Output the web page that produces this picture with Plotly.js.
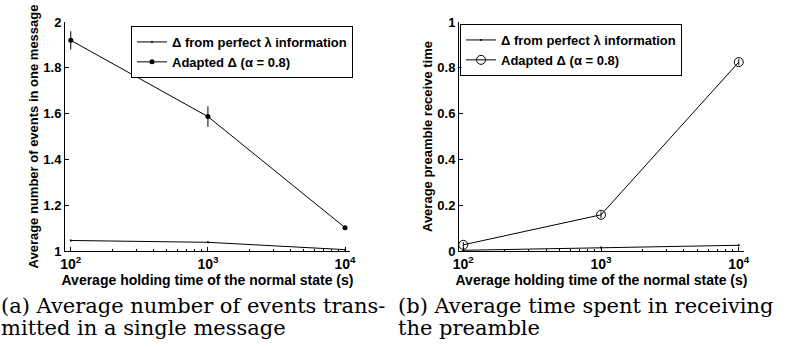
<!DOCTYPE html>
<html>
<head>
<meta charset="utf-8">
<script src="https://cdn.plot.ly/plotly-3.0.1.min.js"></script>
<style>html,body{margin:0;padding:0;background:#fff;}#chart{width:788px;height:347px;}</style>
</head>
<body>
<div id="chart"></div>
<script>
// ---- data ----
const holdingTimes = [100, 1000, 10000];
const tickVals = [100, 1000, 10000];
const tickText = ['10<sup>2</sup>', '10<sup>3</sup>', '10<sup>4</sup>'];
const minorTickVals = [200,300,400,500,600,700,800,900,2000,3000,4000,5000,6000,7000,8000,9000];

// (a) events per message
const eventsPerfect = [1.046, 1.038, 1.006];
const eventsPerfectErr = [0.004, 0.004, 0.003];
const eventsAdapted = [1.920, 1.587, 1.102];
const eventsAdaptedErr = [0.040, 0.045, 0.006];

// (b) preamble receive time
const preamblePerfect = [0.003, 0.015, 0.025];
const preamblePerfectErr = [0.003, 0.004, 0.004];
const preambleAdapted = [0.027, 0.158, 0.825];
const preambleAdaptedErr = [0.012, 0.014, 0.014];

const legendNames = ['\u0394 from perfect \u03bb information', 'Adapted \u0394 (\u03b1 = 0.8)'];
const xTitle = 'Average holding time of the normal state (s)';
const yTitleA = 'Average number of events in one message';
const yTitleB = 'Average preamble receive time';
const captionALines = ['(a) Average number of events trans-', 'mitted in a single message'];
const captionBLines = ['(b) Average time spent in receiving', 'the preamble'];

// ---- styling ----
const W = 788, H = 347;
const FAM = 'Liberation Sans';
const SERIF = 'DejaVu Serif';
const boldFont = (size) => ({family: FAM, size: size, color: '#000', weight: 'bold'});
const px = v => v / W;
const py = v => 1 - v / H;

function xAxis(domain, range, anchor) {
  return {
    type: 'log', domain: domain, range: range, anchor: anchor,
    showline: true, linecolor: '#000', linewidth: 1, mirror: false,
    showgrid: false, zeroline: false,
    ticks: 'inside', ticklen: 4, tickcolor: '#000',
    tickmode: 'array', tickvals: tickVals, ticktext: tickText,
    tickfont: boldFont(14),
    minor: {ticks: 'inside', ticklen: 2.5, tickcolor: '#000', tickmode: 'array', tickvals: minorTickVals, showgrid: false},
    title: {text: xTitle, font: boldFont(14), standoff: 0}
  };
}
function yAxis(domain, range, anchor, title) {
  return {
    domain: domain, range: range, anchor: anchor,
    showline: true, linecolor: '#000', linewidth: 1, mirror: false,
    showgrid: false, zeroline: false,
    ticks: 'inside', ticklen: 4, tickcolor: '#000', dtick: 0.2, tick0: 0,
    tickfont: boldFont(13),
    title: {text: title, font: boldFont(13), standoff: 1}
  };
}

const lineStyle = {color: '#000', width: 1};
const traces = [
  {x: holdingTimes, y: eventsPerfect, name: legendNames[0], mode: 'lines+markers', xaxis: 'x', yaxis: 'y', legend: 'legend',
   line: lineStyle, marker: {size: 2, color: '#000'},
   error_y: {type: 'data', array: eventsPerfectErr, color: '#000', thickness: 1, width: 0}},
  {x: holdingTimes, y: eventsAdapted, name: legendNames[1], mode: 'lines+markers', xaxis: 'x', yaxis: 'y', legend: 'legend',
   line: lineStyle, marker: {size: 5, color: '#000'},
   error_y: {type: 'data', array: eventsAdaptedErr, color: '#000', thickness: 1, width: 0}},
  {x: holdingTimes, y: preamblePerfect, name: legendNames[0], mode: 'lines+markers', xaxis: 'x2', yaxis: 'y2', legend: 'legend2',
   line: lineStyle, marker: {size: 2, color: '#000'},
   error_y: {type: 'data', array: preamblePerfectErr, color: '#000', thickness: 1, width: 0}},
  {x: holdingTimes, y: preambleAdapted, name: legendNames[1], mode: 'lines+markers', xaxis: 'x2', yaxis: 'y2', legend: 'legend2',
   line: lineStyle, marker: {size: 9, color: '#000', symbol: 'circle-open', line: {width: 1, color: '#000'}},
   error_y: {type: 'data', array: preambleAdaptedErr, color: '#000', thickness: 1, width: 0}}
];

const yDom = [py(251), py(22)];
const legendBase = {
  bgcolor: '#fff', bordercolor: '#000', borderwidth: 1,
  font: boldFont(13),
  xanchor: 'left', yanchor: 'top', tracegroupgap: 0, itemwidth: 30
};
const captionFont = {family: SERIF, size: 21, color: '#000', weight: 'normal'};
function caption(text, x, yBottom) {
  return {text: text, xref: 'paper', yref: 'paper', x: px(x), y: py(yBottom), xanchor: 'left', yanchor: 'bottom',
          align: 'left', showarrow: false, font: captionFont, borderpad: 0};
}

const layout = {
  width: W, height: H,
  margin: {l: 0, r: 0, t: 0, b: 0},
  paper_bgcolor: '#fff', plot_bgcolor: '#fff',
  font: {family: FAM, size: 12, color: '#000'},
  showlegend: true,
  xaxis: xAxis([px(65), px(350)], [1.958, 4.036], 'y'),
  yaxis: yAxis(yDom, [1, 2], 'x', yTitleA),
  xaxis2: xAxis([px(459), px(744)], [1.969, 4.038], 'y2'),
  yaxis2: yAxis(yDom, [0, 1], 'x2', yTitleB),
  legend: Object.assign({}, legendBase, {x: px(131), y: py(26)}),
  legend2: Object.assign({}, legendBase, {x: px(460), y: py(24)}),
  annotations: [
    caption(captionALines[0], 0, 319),
    caption(captionALines[1], 0, 341),
    caption(captionBLines[0], 397, 319),
    caption(captionBLines[1], 397, 341)
  ]
};

Plotly.newPlot('chart', traces, layout, {displayModeBar: false, staticPlot: true});
</script>
</body>
</html>
